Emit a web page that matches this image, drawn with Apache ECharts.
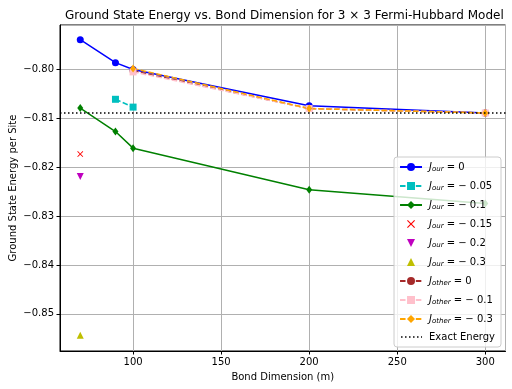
<!DOCTYPE html>
<html>
<head>
<meta charset="utf-8">
<script src="https://cdn.jsdelivr.net/npm/echarts@6/dist/echarts.min.js"></script>
<style>
  html, body { margin: 0; padding: 0; background: #fff; }
  #chart { width: 512px; height: 389px; }
</style>
</head>
<body>
<div id="chart"></div>
<script>
// bond dimensions (m) and ground state energy per site
var bondJour0 = [70, 90, 100, 200, 300];
var eJour0 = [-0.7939, -0.7986, -0.8000, -0.8074, -0.8089];
var bondJour005 = [90, 100];
var eJour005 = [-0.8061, -0.8077];
var bondJour01 = [70, 90, 100, 200, 300];
var eJour01 = [-0.8079, -0.8127, -0.8161, -0.8246, -0.8274];
var bondSingle = [70];
var eJour015 = [-0.8173];
var eJour02 = [-0.8219];
var eJour03 = [-0.8544];
var bondOther = [100, 200, 300];
var eJother0 = [-0.8003, -0.8080, -0.8089];
var eJother01 = [-0.8005, -0.8080, -0.8089];
var eJother03 = [-0.7998, -0.8080, -0.8089];
var exactEnergy = -0.8089;

var legendText = {
  'Jour0': ['our', '= 0'],
  'Jour005': ['our', '= − 0.05'],
  'Jour01': ['our', '= − 0.1'],
  'Jour015': ['our', '= − 0.15'],
  'Jour02': ['our', '= − 0.2'],
  'Jour03': ['our', '= − 0.3'],
  'Jother0': ['other', '= 0'],
  'Jother01': ['other', '= − 0.1'],
  'Jother03': ['other', '= − 0.3']
};

function pairs(xs, ys){
  var out = [];
  for (var i = 0; i < xs.length; i++) out.push([xs[i], ys[i]]);
  return out;
}

var xMark = 'path://M0,1L1,0L5,4L9,0L10,1L6,5L10,9L9,10L5,6L1,10L0,9L4,5Z';
// dotted legend icon; tiny corner specks keep the 22x10 box from stretching the dots
var dotIcon = 'path://M0,0h0.01v0.01zM21.99,10h0.01v-0.01z' +
  'M1,4.2h1.5v1.5h-1.5zM5,4.2h1.5v1.5h-1.5zM9,4.2h1.5v1.5h-1.5z' +
  'M13,4.2h1.5v1.5h-1.5zM17,4.2h1.5v1.5h-1.5zM21,4.2h1v1.5h-1z';
var dash = [5.5, 2.4];

function lineSeries(name, xs, ys, color, symbol, size, lineType, width){
  return {
    name: name, type: 'line', data: pairs(xs, ys),
    symbol: symbol, symbolSize: size, showSymbol: true,
    itemStyle: { color: color },
    lineStyle: { color: color, width: width === undefined ? 1.5 : width, type: lineType },
    emphasis: { disabled: true },
    animation: false
  };
}
function markerSeries(name, xs, ys, color, symbol, size, rotate){
  var s = lineSeries(name, xs, ys, color, symbol, size, 'solid', 0);
  s.symbolRotate = rotate || 0;
  return s;
}

var series = [
  lineSeries('Jour0', bondJour0, eJour0, '#0000ff', 'circle', 7, 'solid'),
  lineSeries('Jour005', bondJour005, eJour005, '#00bfbf', 'rect', 7, dash),
  lineSeries('Jour01', bondJour01, eJour01, '#008000', 'diamond', [6, 8], 'solid'),
  markerSeries('Jour015', bondSingle, eJour015, '#ff0000', xMark, 6),
  markerSeries('Jour02', bondSingle, eJour02, '#bf00bf', 'triangle', 7, 180),
  markerSeries('Jour03', bondSingle, eJour03, '#bfbf00', 'triangle', 7),
  lineSeries('Jother0', bondOther, eJother0, '#a52a2a', 'circle', 7, dash),
  lineSeries('Jother01', bondOther, eJother01, '#ffc0cb', 'rect', 7, dash),
  lineSeries('Jother03', bondOther, eJother03, '#ffa500', 'diamond', [6, 8], dash),
  {
    name: 'Exact Energy', type: 'line', data: [], symbol: 'none',
    lineStyle: { color: '#000', width: 1.5, type: [1.5, 2.5] },
    itemStyle: { color: '#000' },
    markLine: {
      silent: true, symbol: 'none', precision: 5, label: { show: false },
      lineStyle: { color: '#000', width: 1.5, type: [1.5, 2.5] },
      data: [{ yAxis: exactEnergy }]
    },
    animation: false
  }
];

var legendData = series.map(function(s){
  if (s.name === 'Exact Energy') return { name: s.name, icon: dotIcon };
  return { name: s.name };
});

var font = 'DejaVu Sans';
var myChart = echarts.init(document.getElementById('chart'));
var option = {
  backgroundColor: '#fff',
  animation: false,
  title: {
    text: 'Ground State Energy vs. Bond Dimension for 3 × 3 Fermi-Hubbard Model',
    left: 60, top: 5,
    textStyle: { fontFamily: font, fontSize: 12, fontWeight: 'normal', color: '#000' }
  },
  grid: {
    left: 60, right: 6.5, top: 25, bottom: 38,
    outerBoundsMode: 'none', containLabel: false,
    show: true, borderColor: '#000', borderWidth: 1, backgroundColor: 'transparent'
  },
  legend: {
    orient: 'vertical', right: 11, top: 157,
    padding: [4, 6, 5, 5],
    itemWidth: 22, itemHeight: 10, itemGap: 7,
    backgroundColor: 'rgba(255,255,255,0.8)',
    borderColor: '#cccccc', borderWidth: 1, borderRadius: 3,
    data: legendData,
    formatter: function(name){
      var t = legendText[name];
      if (!t) return '{e|' + name + '}';
      return '{j|J}{s|' + t[0] + '}{e| ' + t[1] + '}';
    },
    textStyle: {
      fontFamily: font, fontSize: 10, color: '#000', padding: [0, 0, 0, 2],
      rich: {
        j: { fontFamily: font, fontStyle: 'italic', fontSize: 10, lineHeight: 12 },
        s: { fontFamily: font, fontStyle: 'italic', fontSize: 7, lineHeight: 12, padding: [5, 0, 0, 0] },
        e: { fontFamily: font, fontSize: 10, lineHeight: 12 }
      }
    }
  },
  xAxis: {
    type: 'value', min: 58.5, max: 311.5, splitNumber: 5,
    name: 'Bond Dimension (m)', nameLocation: 'middle', nameGap: 21, nameMoveOverlap: false,
    nameTextStyle: { fontFamily: font, fontSize: 10, color: '#000' },
    axisLine: { show: true, onZero: false, lineStyle: { color: '#000' } },
    axisTick: { show: true, length: 3.5, lineStyle: { color: '#000' } },
    axisLabel: { fontFamily: font, fontSize: 10, color: '#000', margin: 6, showMinLabel: false, showMaxLabel: false },
    splitLine: { show: true, lineStyle: { color: '#b0b0b0', width: 1 } }
  },
  yAxis: {
    type: 'value', min: -0.8576, max: -0.7909, splitNumber: 6,
    name: 'Ground State Energy per Site', nameLocation: 'middle', nameGap: 42, nameMoveOverlap: false,
    nameTextStyle: { fontFamily: font, fontSize: 10, color: '#000' },
    axisLine: { show: true, onZero: false, lineStyle: { color: '#000' } },
    axisTick: { show: true, length: 3.5, lineStyle: { color: '#000' } },
    axisLabel: {
      fontFamily: font, fontSize: 10, color: '#000', margin: 6,
      showMinLabel: false, showMaxLabel: false,
      formatter: function(v){ return v.toFixed(2).replace('-', '−'); }
    },
    splitLine: { show: true, lineStyle: { color: '#b0b0b0', width: 1 } }
  },
  series: series
};
myChart.setOption(option);
window.onresize = myChart.resize;
</script>
</body>
</html>
